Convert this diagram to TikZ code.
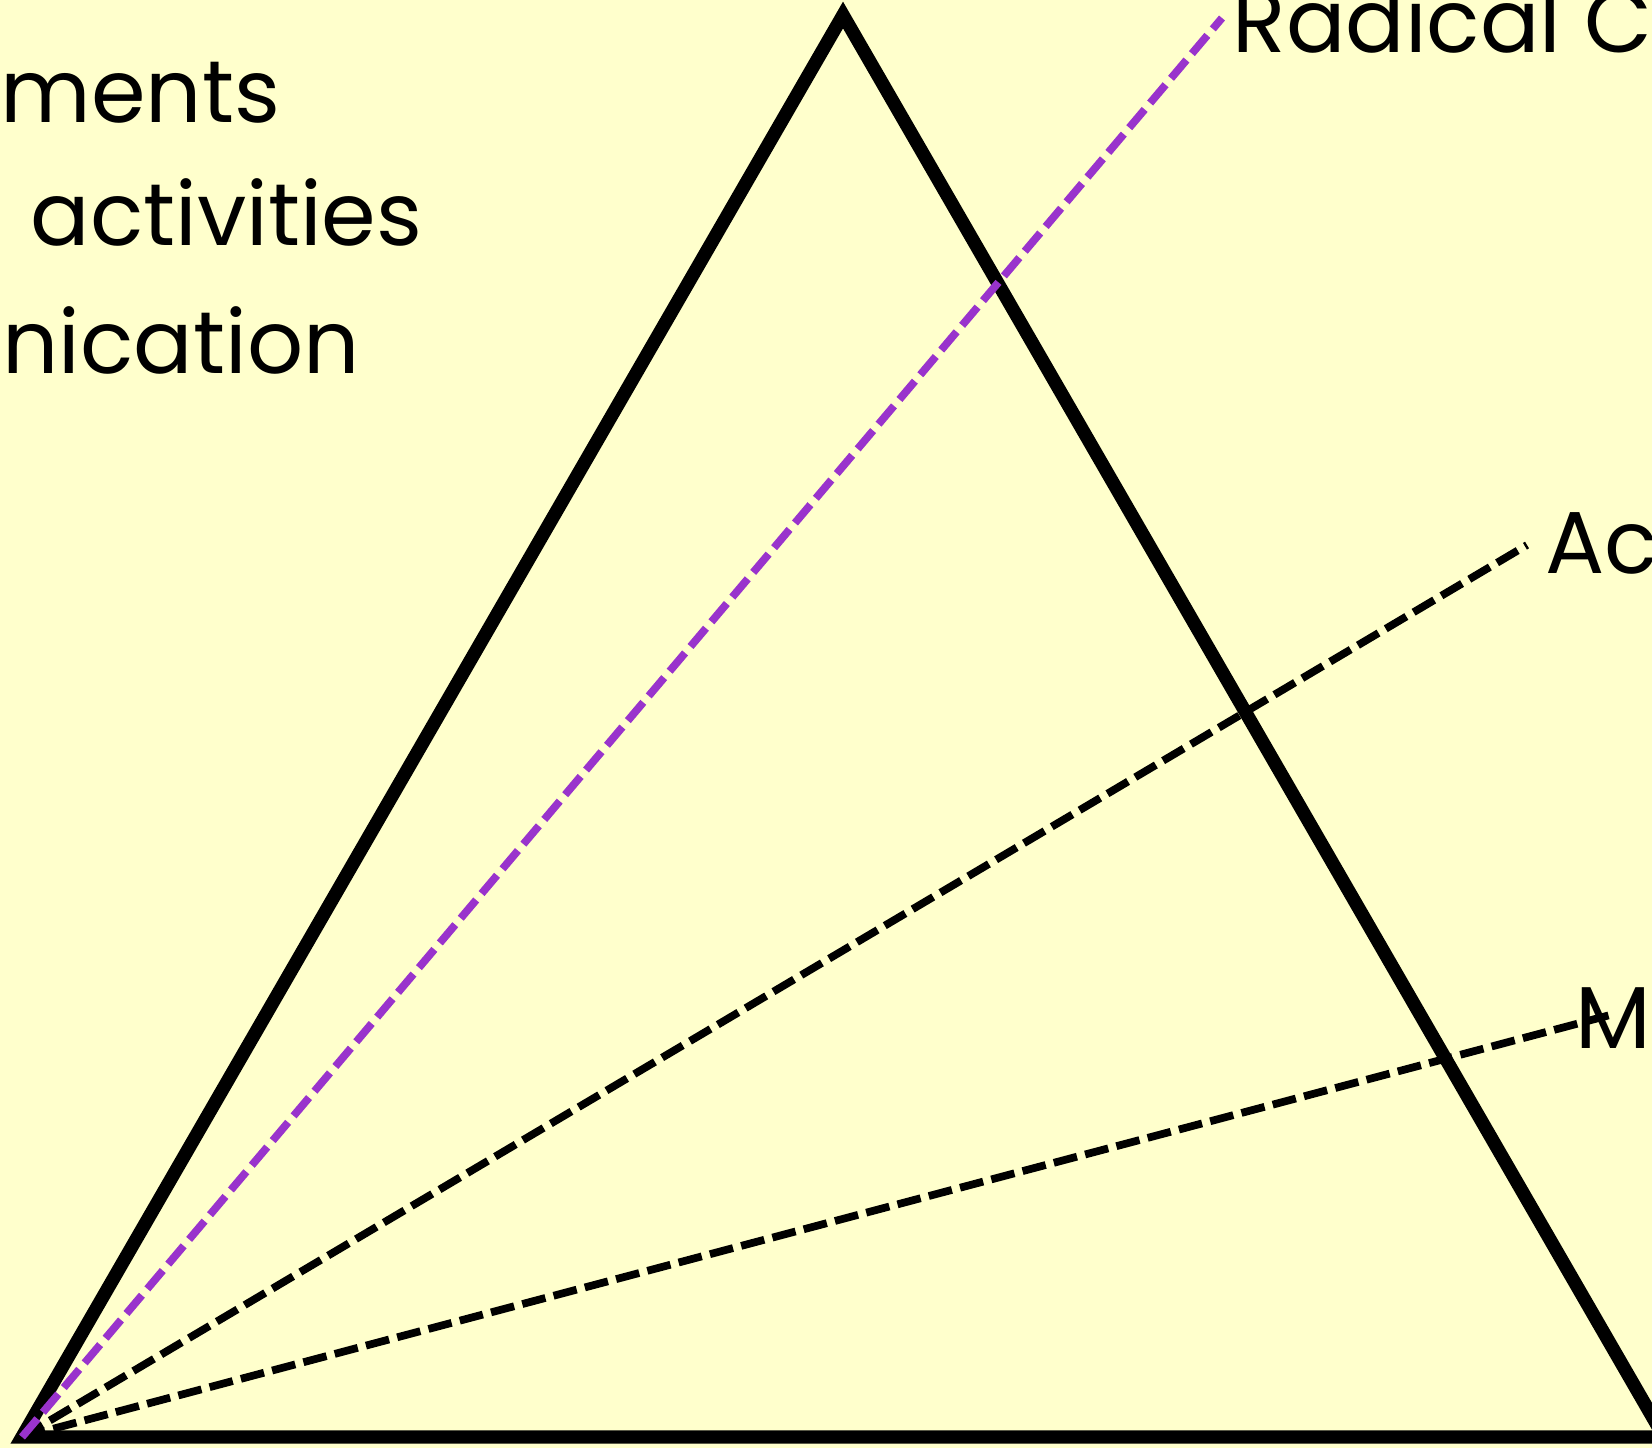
\documentclass[tikz,border=0pt]{standalone}
\usepackage{fontspec}
\setmainfont{Poppins}
\usetikzlibrary{positioning}
\definecolor{cBack}{HTML}{FFFFCC}
\definecolor{cRadical}{HTML}{9933CC}
\tikzset{
  side/.style={draw=black, line width=3.8pt, line join=miter},
  ray/.style={draw=#1, line width=2.2pt, dash pattern=on 6.8pt off 2.4pt},
  tag/.style={anchor=base west, inner sep=0pt, font=\fontsize{25pt}{30pt}\selectfont},
}

\begin{document}
\begin{tikzpicture}[x=0.01cm, y=-0.01cm]

  \fill[cBack] (0,0) rectangle (1652,1448);
  \useasboundingbox (0,0) rectangle (1652,1448);
  \clip (0,0) rectangle (1652,1448);

  \coordinate (base)   at (22,1437);
  \coordinate (apex)   at (843,15);
  \coordinate (corner) at (1664,1437);
  \draw[side] (base) -- (apex) -- (corner) -- cycle;

  \coordinate (radEnd) at (1222,18);
  \coordinate (acEnd)  at (1527,545);
  \coordinate (mEnd)   at (1610,1015);

  \draw[ray=black]     (base) -- (mEnd);
  \draw[ray=black]     (base) -- (acEnd);
  \draw[ray=cRadical]  (base) -- (radEnd);

  \node[tag] (radical) at (1232,52)   {Radical C};
  \node[tag] (ac)      at (1545,573)  {Ac};
  \node[tag] (m)       at (1575,1048) {M};

  \node[tag] (ments)      at (0,122) {ments};
  \node[tag] (activities) at (30,245) {activities};
  \node[tag] (nication)   at (2,373) {nication};

\end{tikzpicture}
\end{document}
